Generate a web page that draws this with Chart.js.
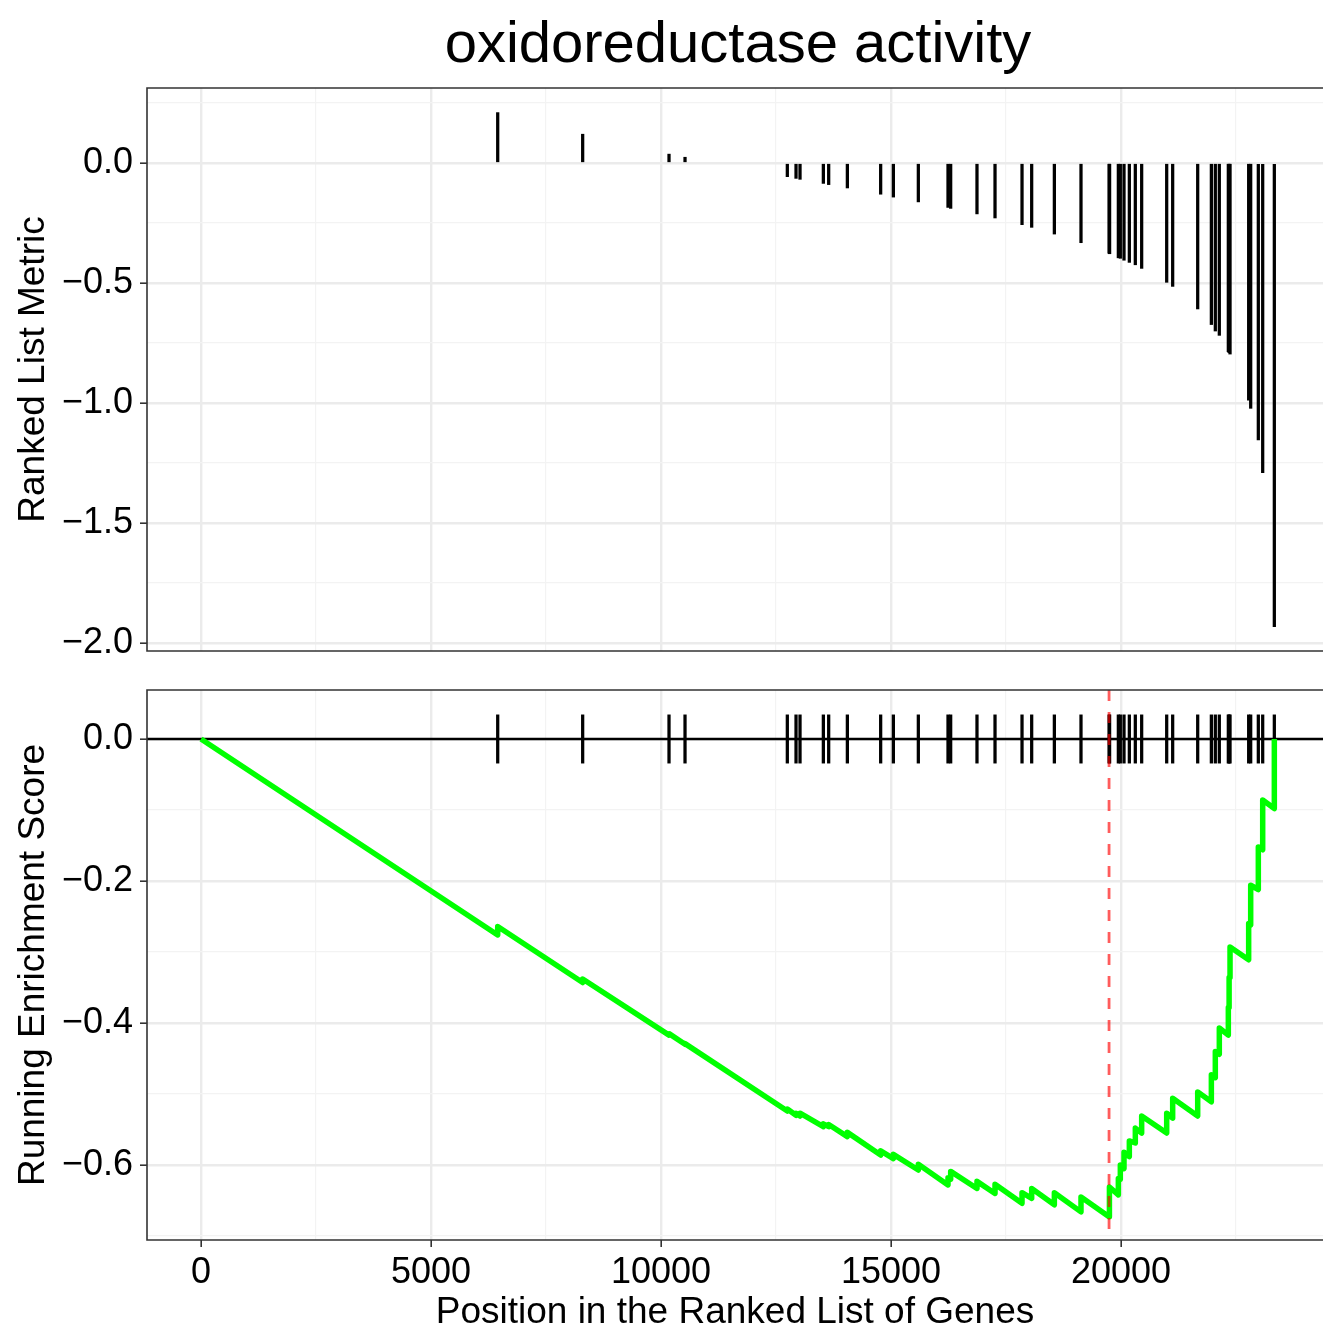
<!DOCTYPE html>
<html>
<head>
<meta charset="utf-8">
<title>oxidoreductase activity</title>
<script src="https://cdn.jsdelivr.net/npm/chart.js@4.4.1/dist/chart.umd.min.js"></script>
<style>
  html, body { margin: 0; padding: 0; background: #fff; overflow: hidden; }
  #page { position: relative; width: 1323px; height: 1330px; }
  #title {
    position: absolute; left: 147px; width: 1182px; top: 13px;
    text-align: center; white-space: nowrap; color: #000;
    font-family: 'Liberation Sans', Arial, Helvetica, sans-serif;
    font-size: 58px; line-height: 1;
  }
  canvas { position: absolute; left: 0; }
  #metric-chart { top: 0; }
  #es-chart { top: 660px; }
</style>
</head>
<body>
<div id="page">
  <canvas id="metric-chart" width="1323" height="691"></canvas>
  <canvas id="es-chart" width="1323" height="670"></canvas>
  <div id="title">oxidoreductase activity</div>
</div>
<script>
// GSEA plot: ranked list metric on top, running enrichment score below

// ============================================================================
// Data
// ============================================================================

// positions of the gene set members in the ranked list
const hitPositions = [
  6450, 8297, 10174, 10522, 12746, 12935, 13022, 13529, 13645, 14051,
  14775, 15051, 15594, 16239, 16297, 16869, 17261, 17848, 18058, 18551,
  19130, 19740, 19752, 19942, 19985, 20065, 20181, 20311, 20449, 20993,
  21123, 21667, 21964, 22050, 22137, 22333, 22350, 22370, 22775, 22819,
  22985, 23080, 23333
];

// ranked list metric at each hit (top panel)
const rankMetric = [
  0.21, 0.12, 0.037, 0.024, -0.057, -0.064, -0.068, -0.085, -0.09, -0.104,
  -0.13, -0.142, -0.162, -0.185, -0.189, -0.212, -0.229, -0.257, -0.268, -0.296,
  -0.332, -0.376, -0.378, -0.395, -0.397, -0.405, -0.414, -0.424, -0.439, -0.497,
  -0.514, -0.608, -0.673, -0.7, -0.718, -0.786, -0.79, -0.796, -0.988, -1.022,
  -1.154, -1.29, -1.932
];

// running enrichment score just before / just after each hit
const esBeforeHit = [
  -0.276, -0.343, -0.417, -0.43, -0.524, -0.53, -0.531, -0.546, -0.546, -0.56,
  -0.586, -0.591, -0.607, -0.628, -0.62, -0.633, -0.64, -0.654, -0.647, -0.656,
  -0.666, -0.673, -0.652, -0.642, -0.62, -0.605, -0.588, -0.569, -0.555, -0.555,
  -0.534, -0.531, -0.511, -0.477, -0.444, -0.417, -0.378, -0.336, -0.311, -0.262,
  -0.212, -0.156, -0.098
];
const esAfterHit = [
  -0.264, -0.338, -0.415, -0.429, -0.521, -0.527, -0.527, -0.542, -0.543, -0.554,
  -0.58, -0.585, -0.599, -0.618, -0.609, -0.623, -0.627, -0.639, -0.633, -0.639,
  -0.645, -0.652, -0.631, -0.619, -0.6, -0.582, -0.566, -0.548, -0.531, -0.527,
  -0.506, -0.497, -0.473, -0.44, -0.407, -0.378, -0.336, -0.293, -0.26, -0.206,
  -0.152, -0.086, 0.0
];
const esStart = [0, 0]; // [position, score]

// tick values and labels
const xMajorTicks = [0, 5000, 10000, 15000, 20000];
const xMinorTicks = [2500, 7500, 12500, 17500, 22500];
const xTickLabels = ['0', '5000', '10000', '15000', '20000'];
const metricMajorTicks = [0, -0.5, -1, -1.5, -2];
const metricMinorTicks = [0.25, -0.25, -0.75, -1.25, -1.75];
const metricTickLabels = ['0.0', '\u22120.5', '\u22121.0', '\u22121.5', '\u22122.0'];
const esMajorTicks = [0, -0.2, -0.4, -0.6];
const esMinorTicks = [-0.1, -0.3, -0.5, -0.7];
const esTickLabels = ['0.0', '\u22120.2', '\u22120.4', '\u22120.6'];

// ============================================================================
// Styling
// ============================================================================

const X_MIN = -1174, X_MAX = 24391;
const METRIC_MIN = -2.033, METRIC_MAX = 0.3125;
const ES_MIN = -0.7056, ES_MAX = 0.069;

const FONT = "'Liberation Sans', Arial, Helvetica, sans-serif";
const GRID_MAJOR = '#EBEBEB';
const GRID_MINOR = '#F3F3F3';
const BORDER = '#333333';
const HIT_TICK_HALF = 0.034;

// linear axis with ggplot-style major + minor grid
function gridAxis(major, minor, labels, min, max) {
  const all = major.concat(minor).sort((a, b) => a - b);
  const isMajor = (ctx) => ctx.tick && major.indexOf(ctx.tick.value) !== -1;
  return {
    type: 'linear',
    min: min,
    max: max,
    offset: false,
    afterBuildTicks: (scale) => {
      scale.ticks = all.map((v) => ({ value: v }));
    },
    ticks: {
      autoSkip: false,
      maxRotation: 0,
      minRotation: 0,
      padding: 7,
      color: '#000',
      font: { family: FONT, size: 36 },
      callback: (value) => {
        const i = major.indexOf(value);
        return i === -1 ? '' : labels[i];
      }
    },
    grid: {
      offset: false,
      color: (ctx) => (isMajor(ctx) ? GRID_MAJOR : GRID_MINOR),
      lineWidth: (ctx) => (isMajor(ctx) ? 2.4 : 1.2),
      tickColor: (ctx) => (isMajor(ctx) ? BORDER : 'rgba(0,0,0,0)'),
      tickWidth: 1.6,
      tickLength: 7
    },
    border: { display: false }
  };
}

function axisTitle(text, padding) {
  return {
    display: true,
    text: text,
    color: '#000',
    font: { family: FONT, size: 37 },
    padding: padding
  };
}

// dark frame around the panel (right edge falls off the canvas)
const panelBorder = {
  id: 'panelBorder',
  afterDraw(chart) {
    const { ctx, chartArea: a } = chart;
    ctx.save();
    ctx.strokeStyle = BORDER;
    ctx.lineWidth = 1.6;
    ctx.beginPath();
    ctx.moveTo(a.right + 2, a.top);
    ctx.lineTo(a.left, a.top);
    ctx.lineTo(a.left, a.bottom);
    ctx.lineTo(a.right + 2, a.bottom);
    ctx.stroke();
    ctx.restore();
  }
};

// ============================================================================
// Top panel: ranked list metric
// ============================================================================

const metricX = gridAxis(xMajorTicks, xMinorTicks, xTickLabels, X_MIN, X_MAX);
metricX.ticks.display = false;
metricX.grid.drawTicks = false;
metricX.afterFit = (scale) => { scale.height = 40; };

const metricY = gridAxis(metricMajorTicks, metricMinorTicks, metricTickLabels, METRIC_MIN, METRIC_MAX);
metricY.afterFit = (scale) => { scale.width = 147; };
metricY.title = axisTitle('Ranked List Metric', { top: 12, bottom: 0 });

new Chart(document.getElementById('metric-chart'), {
  type: 'bar',
  data: {
    datasets: [
      {
        data: hitPositions.map((p, i) => ({ x: p, y: rankMetric[i] })),
        backgroundColor: '#000',
        borderWidth: 0,
        barThickness: 2.6
      }
    ]
  },
  options: {
    responsive: false,
    animation: false,
    devicePixelRatio: 1,
    layout: { padding: { top: 88, right: 0, bottom: 0, left: 0 } },
    plugins: { legend: { display: false }, tooltip: { enabled: false } },
    scales: { x: metricX, y: metricY }
  },
  plugins: [panelBorder]
});

// ============================================================================
// Bottom panel: running enrichment score
// ============================================================================

const esPoints = [{ x: esStart[0], y: esStart[1] }];
hitPositions.forEach((p, i) => {
  esPoints.push({ x: p, y: esBeforeHit[i] });
  esPoints.push({ x: p, y: esAfterHit[i] });
});

// the peak (most negative) score marks the dashed line
let peakIndex = 0;
esBeforeHit.forEach((v, i) => { if (v < esBeforeHit[peakIndex]) peakIndex = i; });
const peakPosition = hitPositions[peakIndex];

const esGuides = {
  id: 'esGuides',
  beforeDatasetsDraw(chart) {
    const { ctx, chartArea: a, scales } = chart;
    const y0 = scales.y.getPixelForValue(0);
    ctx.save();
    ctx.strokeStyle = '#000';
    ctx.lineWidth = 2.5;
    ctx.beginPath();
    ctx.moveTo(a.left, y0);
    ctx.lineTo(a.right, y0);
    ctx.stroke();
    ctx.restore();
  },
  afterDatasetsDraw(chart) {
    const { ctx, chartArea: a, scales } = chart;
    const x = scales.x.getPixelForValue(peakPosition);
    ctx.save();
    ctx.strokeStyle = 'rgba(255,0,0,0.64)';
    ctx.lineWidth = 2.8;
    ctx.setLineDash([11, 11]);
    ctx.beginPath();
    ctx.moveTo(x, a.top);
    ctx.lineTo(x, a.bottom);
    ctx.stroke();
    ctx.restore();
  }
};

const esX = gridAxis(xMajorTicks, xMinorTicks, xTickLabels, X_MIN, X_MAX);
esX.ticks.padding = 4;
esX.afterFit = (scale) => { scale.height = 90; };
esX.title = axisTitle('Position in the Ranked List of Genes', { top: 0, bottom: -5 });

const esY = gridAxis(esMajorTicks, esMinorTicks, esTickLabels, ES_MIN, ES_MAX);
esY.afterFit = (scale) => { scale.width = 147; };
esY.title = axisTitle('Running Enrichment Score', { top: 12, bottom: 0 });

new Chart(document.getElementById('es-chart'), {
  type: 'bar',
  data: {
    datasets: [
      {
        type: 'line',
        data: esPoints,
        borderColor: '#00FF00',
        borderWidth: 5.5,
        borderJoinStyle: 'round',
        pointRadius: 0,
        tension: 0,
        fill: false,
        order: 0
      },
      {
        type: 'bar',
        data: hitPositions.map((p) => ({ x: p, y: [-HIT_TICK_HALF, HIT_TICK_HALF] })),
        backgroundColor: '#000',
        borderWidth: 0,
        barThickness: 2.6,
        order: 1
      }
    ]
  },
  options: {
    responsive: false,
    animation: false,
    devicePixelRatio: 1,
    layout: { padding: { top: 30, right: 0, bottom: 0, left: 0 } },
    plugins: { legend: { display: false }, tooltip: { enabled: false } },
    scales: { x: esX, y: esY }
  },
  plugins: [esGuides, panelBorder]
});
</script>
</body>
</html>
